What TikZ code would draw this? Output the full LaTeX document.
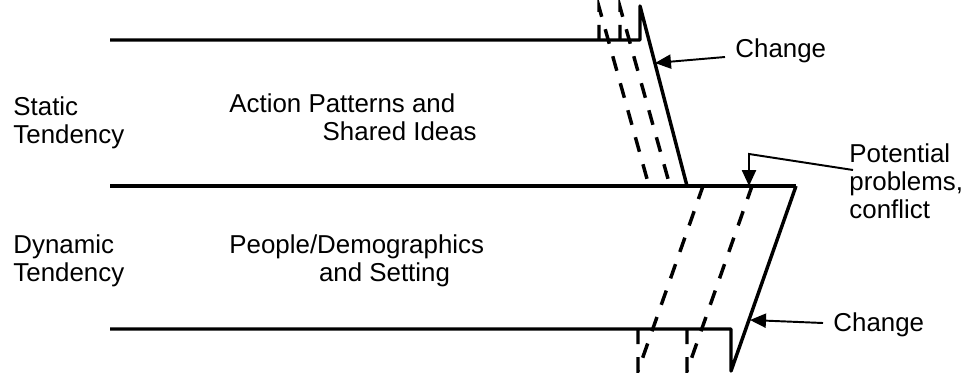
\documentclass[tikz,border=0pt]{standalone}
\usepackage{fontspec}
\setmainfont{Liberation Sans}
\usetikzlibrary{arrows.meta,calc}

\begin{document}
\begin{tikzpicture}[x=0.0163cm,y=-0.0163cm,font=\fontsize{12}{13}\selectfont,
  lbl/.style={inner sep=0pt,align=left,anchor=north west},
  edge/.style={line width=1.6pt,line join=round},
  ghost/.style={line width=1.6pt,dash pattern=on 7pt off 6pt},
  pointer/.style={line width=0.9pt,-{Triangle[length=0.26cm,width=0.23cm]}}]
\useasboundingbox (0,0) rectangle (968,372);
\draw[edge] (110,40) -- (640,40) -- (640,6) -- (687,186);
\draw[edge] (110,186) -- (796,186);
\draw[edge] (110,329) -- (731,329) -- (731,371) -- (796,186);
\draw[ghost] (599,40) -- (599,7) -- (649,186);
\draw[ghost] (620,40) -- (620,7) -- (670,186);
\draw[ghost] (638,329) -- (638,371) -- (703,186);
\draw[ghost] (687,329) -- (687,371) -- (752,186);
\coordinate (hitup) at (655,63);
\coordinate (hitmid) at (749,186);
\coordinate (hitlow) at (750,320);
\node[lbl] (stat) at (13,96) {Static\\Tendency};
\node[lbl] (dyn) at (13,234) {Dynamic\\Tendency};
\node[lbl] (act) at (229,93) {Action Patterns and\\\hspace*{1.52cm}Shared Ideas};
\node[lbl] (ppl) at (229,234) {People/Demographics\\\hspace*{1.46cm}and Setting};
\node[lbl] (chgup) at (735,38) {Change};
\node[lbl] (prob) at (849,143) {Potential\\problems,\\conflict};
\node[lbl] (chglow) at (833,312) {Change};
\draw[pointer] ($(chgup.north west)+(-10,19)$) -- (hitup);
\draw[pointer] ($(prob.north west)+(4,27)$) -- (hitmid |- 0,154) -- (hitmid);
\draw[pointer] ($(chglow.north west)+(-10,11)$) -- (hitlow);
\end{tikzpicture}
\end{document}
